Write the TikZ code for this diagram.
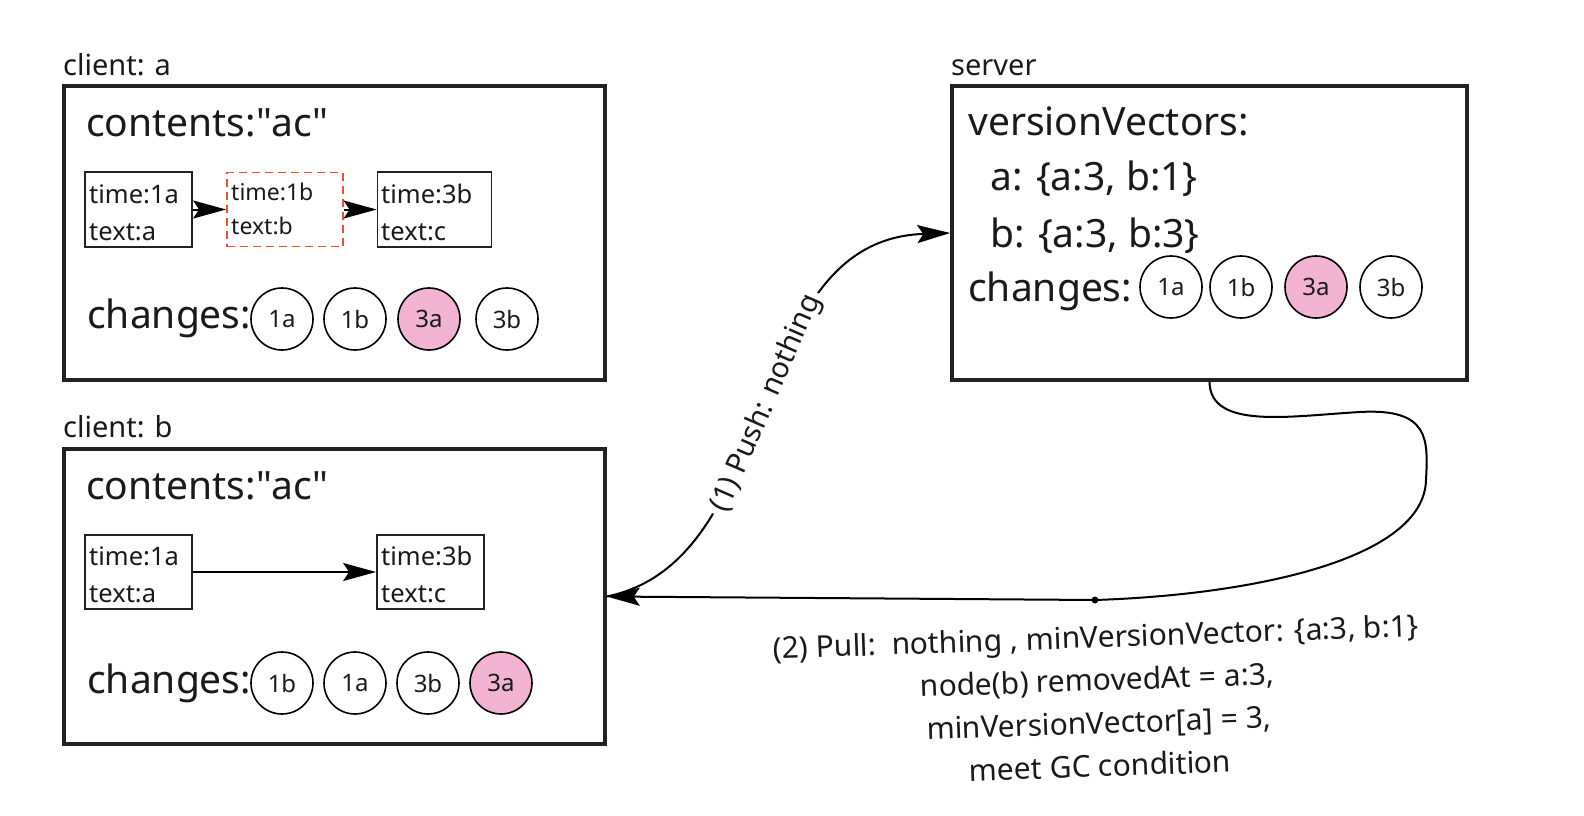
\documentclass[tikz,border=0pt]{standalone}
\usepackage{fontspec}
\setmainfont{Noto Sans}
\usetikzlibrary{arrows.meta}
\definecolor{pinkfill}{RGB}{242,180,210}
\definecolor{dashred}{RGB}{240,80,50}
\definecolor{boxgray}{RGB}{34,34,34}
\definecolor{textc}{RGB}{26,26,26}
\begin{document}
\begin{tikzpicture}[x=1pt,y=-1pt,
  outer/.style={draw=boxgray, line width=3.5pt, minimum width=541pt, minimum height=294pt, inner sep=0pt},
  ibox/.style={draw=boxgray, line width=1.8pt, inner sep=0pt, minimum width=107pt, minimum height=75pt},
  dbox/.style={draw=dashred, line width=1.8pt, dash pattern=on 8pt off 5pt, inner sep=0pt, minimum width=116pt, minimum height=74pt},
  ttl/.style={font=\fontsize{29}{35}\selectfont, anchor=base west, inner sep=0pt, text=textc},
  big/.style={font=\fontsize{39}{46}\selectfont, anchor=base west, inner sep=0pt, text=textc},
  sml/.style={font=\fontsize{25.5}{30}\selectfont, anchor=base west, inner sep=0pt, text=textc},
  smlr/.style={font=\fontsize{23}{28}\selectfont, anchor=base west, inner sep=0pt, text=textc},
  chg/.style={circle, draw=black, line width=1.6pt, minimum size=62pt, inner sep=0pt, font=\fontsize{24}{28}\selectfont, text=textc},
  tip/.style={-{Stealth[length=33pt,width=18pt,inset=6pt]}},
  conn/.style={line width=2pt, tip},
  wire/.style={line width=2pt},
]
\useasboundingbox (0,0) rectangle (1584,816);

% ---------- client a ----------
\node[ttl] (tca) at (63,75) {client: a};
\node[outer] (ca) at (334.5,233) {};
\node[big] (cona) at (86,136) {contents:\textquotedbl ac\textquotedbl};
\node[ibox] (ia1) at (138.5,209.5) {};
\node[sml] (ia1t) at (89,203) {time:1a};
\node[sml] (ia1x) at (89,240) {text:a};
\node[dbox] (iad) at (285,209.5) {};
\node[smlr] (iadt) at (231,200) {time:1b};
\node[smlr] (iadx) at (231,234) {text:b};
\node[ibox, minimum width=114pt] (ia3) at (434.5,209.5) {};
\node[sml] (ia3t) at (381,203) {time:3b};
\node[sml] (ia3x) at (381,240) {text:c};
\draw[conn] (ia1.east) -- (iad.west);
\draw[conn] (iad.east) -- (ia3.west);
\node[big] (cha) at (87,328) {changes:};
\node[chg] (a1) at (282,319) {1a};
\node[chg] (a2) at (355,319) {1b};
\node[chg, fill=pinkfill] (a3) at (429,319) {3a};
\node[chg] (a4) at (507,319) {3b};

% ---------- client b ----------
\node[ttl] (tcb) at (63,437) {client: b};
\node[outer, minimum height=295pt] (cb) at (334.5,596.5) {};
\node[big] (conb) at (86,499) {contents:\textquotedbl ac\textquotedbl};
\node[ibox, minimum height=74pt] (ib1) at (138.5,572) {};
\node[sml] (ib1t) at (89,565) {time:1a};
\node[sml] (ib1x) at (89,602) {text:a};
\node[ibox, minimum height=74pt] (ib3) at (430.5,572) {};
\node[sml] (ib3t) at (381,565) {time:3b};
\node[sml] (ib3x) at (381,602) {text:c};
\draw[conn] (ib1.east) -- (ib3.west);
\node[big] (chb) at (87,693) {changes:};
\node[chg] (b1) at (282,683) {1b};
\node[chg] (b2) at (355,683) {1a};
\node[chg] (b3) at (428,683) {3b};
\node[chg, fill=pinkfill] (b4) at (501,683) {3a};

% ---------- server ----------
\node[ttl] (tsv) at (951,75) {server};
\node[outer, minimum width=515pt] (sv) at (1209.5,233) {};
\node[big] (vv) at (968,135) {versionVectors:};
\node[big] (vva) at (990,190) {a: \{a:3, b:1\}};
\node[big] (vvb) at (990,247) {b: \{a:3, b:3\}};
\node[big] (chs) at (968,301) {changes:};
\node[chg] (s1) at (1171,287) {1a};
\node[chg] (s2) at (1241,287) {1b};
\node[chg, fill=pinkfill] (s3) at (1316,287) {3a};
\node[chg] (s4) at (1391,287) {3b};

% ---------- (1) push ----------
\draw[conn] (cb.east) .. controls (785,560) and (740,240) ..
  node[midway, sloped, fill=white, inner sep=5pt, font=\fontsize{29}{35}\selectfont, text=textc] (pushl) {(1) Push: nothing} (sv.west);

% ---------- (2) pull ----------
\coordinate (pd) at (1095,600);
\draw[wire] (sv.south) .. controls (1210,430) and (1290,416) .. (1360,412)
  .. controls (1430,408) and (1428,440) .. (1426,480)
  .. controls (1424,560) and (1250,595) .. (pd);
\draw[conn] (pd) -- (cb.east);
\fill (pd) circle (3.5pt);
\node[font=\fontsize{30}{43}\selectfont, align=center, rotate=2, text=textc] (pulll) at (1098,701)
  {(2) Pull:\ \ nothing , minVersionVector: \{a:3, b:1\}\\ node(b) removedAt = a:3,\\ minVersionVector[a] = 3,\\ meet GC condition};
\end{tikzpicture}
\end{document}
